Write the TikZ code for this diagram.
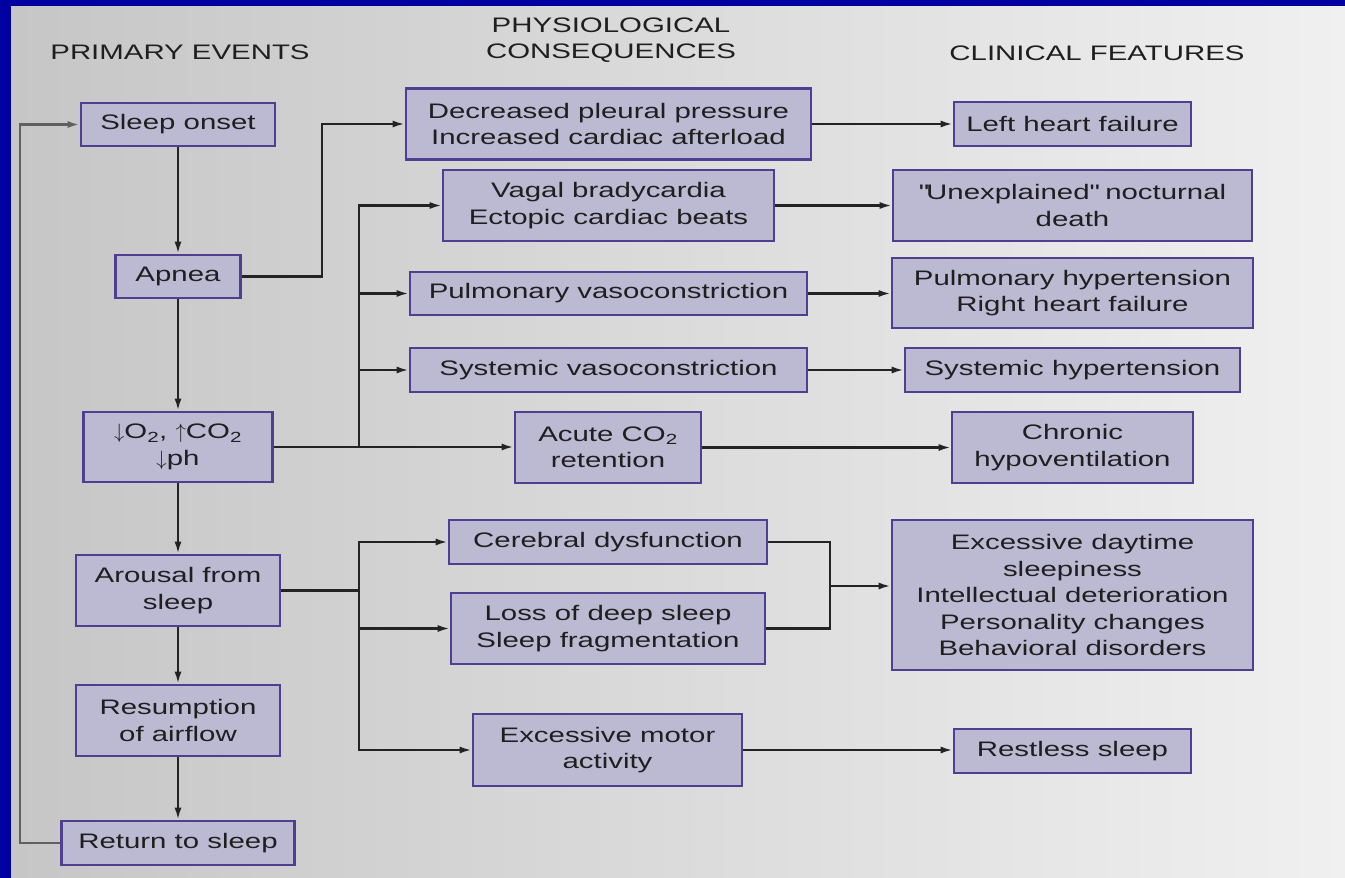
\documentclass[tikz,border=0pt]{standalone}
\usepackage{fontspec}
\setmainfont{Liberation Sans}[FakeStretch=1.4]
\usepackage{xcolor}
\usetikzlibrary{arrows.meta,calc,positioning}
\definecolor{marco}{RGB}{0,0,160}
\definecolor{papelL}{RGB}{198,198,198}
\definecolor{papelR}{RGB}{240,240,240}
\definecolor{cajafondo}{RGB}{188,185,210}
\definecolor{cajaborde}{RGB}{80,62,145}
\definecolor{linea}{RGB}{35,35,35}
\newcommand{\cajafont}{\fontsize{21}{26.5}\selectfont}
\tikzset{
  caja/.style={draw=cajaborde,fill=cajafondo,line width=2.6pt,inner sep=0pt,align=center,font=\cajafont,text=black!88},
  flecha/.style={-{Latex[length=12pt,width=7pt]},line width=2.2pt,draw=linea},
  tramo/.style={line width=2.2pt,draw=linea},
  retorno/.style={-{Latex[length=12pt,width=7pt]},line width=2.4pt,draw=gray!75!black},
  titulo/.style={font=\cajafont,align=center,text=black!88}
}

\begin{document}
\begin{tikzpicture}[x=1pt,y=-1pt]
\useasboundingbox (0,0) rectangle (1345,878);
% marco y papel
\fill[marco] (0,0) rectangle (1345,878);
\shade[left color=papelL,right color=papelR] (11,6) rectangle (1345,878);
% titulos
\node[titulo] (tprim) at (180,52) {PRIMARY EVENTS};
\node[titulo] (tfis) at (611,40) {PHYSIOLOGICAL\\CONSEQUENCES};
\node[titulo] (tclin) at (1097,53) {CLINICAL FEATURES};
% eventos primarios
\node[caja,minimum width=194pt,minimum height=43pt] (onset) at (178,124.5) {Sleep onset};
\node[caja,minimum width=125pt,minimum height=43pt] (apnea) at (178,276.5) {Apnea};
\node[caja,minimum width=189pt,minimum height=70pt] (gas) at (178,447) {$\downarrow$O\textsubscript{2}, $\uparrow$CO\textsubscript{2}\\$\downarrow$ph};
\node[caja,minimum width=204pt,minimum height=71pt] (arousal) at (178,590.5) {Arousal from\\sleep};
\node[caja,minimum width=204pt,minimum height=71pt] (resume) at (178,720.5) {Resumption\\of airflow};
\node[caja,minimum width=233pt,minimum height=44pt] (return) at (178,843) {Return to sleep};
% consecuencias
\node[caja,minimum width=405pt,minimum height=71pt] (pleural) at (608.5,124) {Decreased pleural pressure\\Increased cardiac afterload};
\node[caja,minimum width=331pt,minimum height=71pt] (vagal) at (608.5,205.5) {Vagal bradycardia\\Ectopic cardiac beats};
\node[caja,minimum width=397pt,minimum height=43pt] (pulvaso) at (608.5,293.5) {Pulmonary vasoconstriction};
\node[caja,minimum width=397pt,minimum height=44pt] (sysvaso) at (608.5,370) {Systemic vasoconstriction};
\node[caja,minimum width=186pt,minimum height=71pt] (acute) at (608,447.5) {Acute CO\textsubscript{2}\\retention};
\node[caja,minimum width=318pt,minimum height=44pt] (cerebral) at (608,542) {Cerebral dysfunction};
\node[caja,minimum width=314pt,minimum height=71pt] (deep) at (608,628.5) {Loss of deep sleep\\Sleep fragmentation};
\node[caja,minimum width=269pt,minimum height=72pt] (motor) at (607.5,750) {Excessive motor\\activity};
% rasgos clinicos
\node[caja,minimum width=237pt,minimum height=44pt] (lhf) at (1072.5,124) {Left heart failure};
\node[caja,minimum width=359pt,minimum height=71pt] (death) at (1072.5,205.5) {\textquotedbl Unexplained\textquotedbl\ nocturnal\\death};
\node[caja,minimum width=361pt,minimum height=70pt] (pulhyp) at (1072.5,293) {Pulmonary hypertension\\Right heart failure};
\node[caja,minimum width=335pt,minimum height=44pt] (syshyp) at (1072.5,370) {Systemic hypertension};
\node[caja,minimum width=241pt,minimum height=71pt] (hypovent) at (1072.5,447.5) {Chronic\\hypoventilation};
\node[caja,minimum width=361pt,minimum height=150pt] (daytime) at (1072.5,595) {Excessive daytime\\sleepiness\\Intellectual deterioration\\Personality changes\\Behavioral disorders};
\node[caja,minimum width=237pt,minimum height=44pt] (restless) at (1072.5,751) {Restless sleep};
% cadena principal
\draw[flecha] (onset) -- (apnea);
\draw[flecha] (apnea) -- (gas);
\draw[flecha] (gas) -- (arousal);
\draw[flecha] (arousal) -- (resume);
\draw[flecha] (resume) -- (return);
\draw[retorno] (return.west) -- ++(-40,0) |- (onset.west);
% apnea
\draw[flecha] (apnea.east) -- ++(80,0) |- (pleural.west);
% gases
\coordinate (gb) at (359,447);
\draw[flecha] (gas.east) -- (gas.east -| acute.west);
\draw[flecha] (gb) |- (vagal.west);
\draw[flecha] (gb |- pulvaso.west) -- (pulvaso.west);
\draw[flecha] (gb |- sysvaso.west) -- (sysvaso.west);
% despertar
\coordinate (ab) at (gb |- arousal.east);
\draw[tramo] (arousal.east) -- (ab);
\draw[flecha] (ab) |- (cerebral.west);
\draw[flecha] (ab) |- (motor.west);
\draw[flecha] (ab |- deep.west) -- (deep.west);
% hacia rasgos clinicos
\draw[flecha] (pleural.east) -- (pleural.east -| lhf.west);
\draw[flecha] (vagal.east) -- (death.west);
\draw[flecha] (pulvaso.east) -- (pulvaso.east -| pulhyp.west);
\draw[flecha] (sysvaso.east) -- (syshyp.west);
\draw[flecha] (acute.east) -- (hypovent.west);
\draw[flecha] (motor.east) -- (motor.east -| restless.west);
\coordinate (mb) at (830,586);
\draw[tramo] (cerebral.east) -| (mb);
\draw[tramo] (deep.east) -| (mb);
\draw[flecha] (mb) -- (mb -| daytime.west);
\end{tikzpicture}
\end{document}
